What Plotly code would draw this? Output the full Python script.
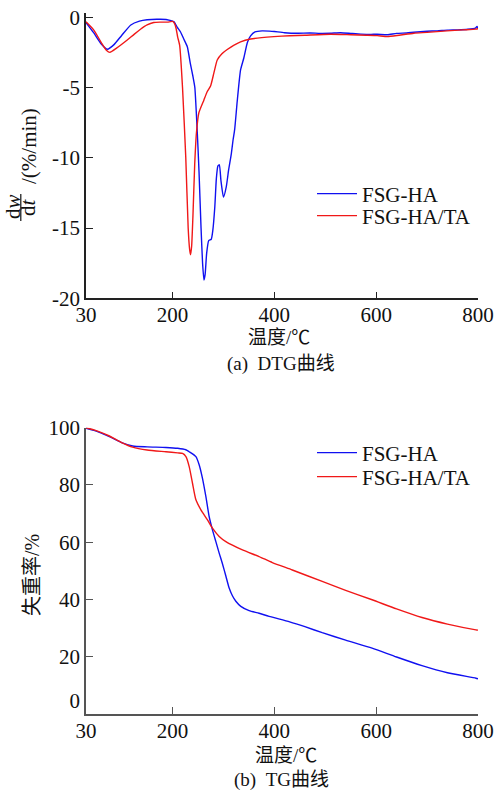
import plotly.graph_objects as go

# ---------------- data ----------------
dtg_x_ha = [30, 45, 60, 72, 85, 100, 118, 135, 150, 176, 195, 203, 209, 215.7, 222, 229, 235, 240, 243.8,
            247, 250, 252, 256, 259, 261.7, 264, 267, 271, 276, 279, 283, 286, 289, 292, 295, 300, 305.6,
            310, 315.5, 319, 322, 327, 333.6, 340, 347, 353.3, 362, 376, 390, 400, 420, 445, 470, 490,
            510, 530, 550, 570, 590, 602, 622, 640, 660, 674, 700, 720, 740, 760, 780, 795, 798, 800]
dtg_y_ha = [-0.38, -1.1, -1.9, -2.28, -1.95, -1.3, -0.55, -0.28, -0.18, -0.15, -0.22, -0.33, -0.7, -1.05,
            -1.55, -2.1, -3.3, -4.2, -5.0, -7.0, -9.3, -11.0, -15.0, -17.5, -18.7, -18.3, -16.8, -15.9,
            -15.8, -15.2, -13.5, -11.5, -10.6, -10.5, -11.6, -12.8, -12.05, -10.9, -9.7, -8.7, -8.0, -6.0,
            -3.75, -2.9, -1.8, -1.33, -1.05, -0.97, -0.99, -1.02, -1.1, -1.14, -1.12, -1.15, -1.14, -1.1,
            -1.15, -1.2, -1.22, -1.21, -1.25, -1.15, -1.12, -1.07, -1.0, -0.97, -0.92, -0.9, -0.86, -0.78,
            -0.65, -0.8]

dtg_x_ta = [30, 45, 60, 70, 77, 90, 111, 125, 137, 150, 163, 175, 190, 200, 204, 207, 210, 214, 219.6,
            226, 230.7, 233.5, 235.4, 237.5, 240, 243.5, 247, 251.7, 261.5, 268, 274.7, 281, 287.8, 297,
            307.4, 320, 333.6, 353.3, 375, 399, 430, 460, 510, 550, 580, 602, 622, 645, 674, 700, 739,
            770, 795.6, 800]
dtg_y_ta = [-0.33, -0.9, -1.8, -2.35, -2.5, -2.2, -1.62, -1.2, -0.86, -0.55, -0.38, -0.35, -0.35, -0.3,
            -0.45, -0.8, -1.4, -2.0, -5.0, -10.0, -15.0, -16.5, -16.9, -16.3, -14.2, -10.5, -8.2, -6.8,
            -5.9, -5.3, -4.9, -4.0, -3.04, -2.6, -2.3, -2.0, -1.75, -1.55, -1.45, -1.38, -1.32, -1.28,
            -1.21, -1.25, -1.28, -1.31, -1.38, -1.28, -1.14, -1.08, -0.97, -0.9, -0.85, -0.82]

tg_x_ha = [30, 50, 76, 100, 121.6, 150, 187, 210, 226, 232.7, 245.9, 252.4, 258.8, 265.5, 272, 278.4,
           285.1, 291.6, 298, 304.7, 311.2, 317.6, 324.3, 334.1, 350.4, 370, 389.6, 430, 460, 494, 540,
           592, 640, 690, 740, 796, 800]
tg_y_ha = [99.8, 98.8, 96.9, 94.8, 93.6, 93.3, 93.1, 92.8, 92.3, 91.6, 89.9, 87.0, 82.3, 75.9, 68.9, 64.3,
           60.2, 56.2, 52.5, 48.2, 44.0, 41.3, 39.4, 37.6, 36.1, 35.2, 34.1, 32.2, 30.5, 28.4, 25.8,
           23.0, 19.9, 16.9, 14.4, 12.5, 12.3]

tg_x_ta = [30, 50, 76, 100, 121.6, 150, 187, 210, 219.6, 226.3, 232.7, 239.2, 245.9, 255.7, 268.6, 278.4,
           291.6, 304.7, 337.3, 370, 396, 435.3, 494, 540, 592, 640, 690, 740, 796, 800]
tg_y_ta = [100.0, 99.0, 97.1, 94.8, 93.2, 92.2, 91.6, 91.2, 91.0, 89.9, 86.4, 80.6, 74.8, 71.3, 67.8, 64.9,
           62.0, 60.2, 57.3, 55.0, 52.9, 50.3, 46.3, 43.2, 39.9, 36.7, 33.7, 31.4, 29.4, 29.3]

x_ticks = [30, 200, 400, 600, 800]
dtg_ticks = [-20, -15, -10, -5, 0]
dtg_tick_text = ["-20", "-15", "-10", "-5", "0"]
tg_ticks = [0, 20, 40, 60, 80, 100]
tg_tick_text = ["0<br><span style='font-size:4px'>\u00a0</span>", "20", "40", "60", "80", "100"]
series_names = ["FSG-HA", "FSG-HA/TA"]

# ---------------- layout helpers ----------------
W_FIG, H_FIG = 497, 791
L, R, T, B = 86, 19, 13, 77
PW, PH = W_FIG - L - R, H_FIG - T - B


def pxx(x):
    return (x - L) / PW


def pxy(y):
    return (T + PH - y) / PH


FONT = "Liberation Serif, Times New Roman, Noto Sans CJK SC, serif"
BLUE = "#1010f0"
RED = "#f01818"
FS = 21

fig = go.Figure()
fig.add_trace(go.Scatter(x=dtg_x_ha, y=dtg_y_ha, mode="lines", name=series_names[0],
                         line=dict(color=BLUE, width=1.4, shape="spline", smoothing=0.5),
                         xaxis="x", yaxis="y", legend="legend"))
fig.add_trace(go.Scatter(x=dtg_x_ta, y=dtg_y_ta, mode="lines", name=series_names[1],
                         line=dict(color=RED, width=1.4, shape="spline", smoothing=0.5),
                         xaxis="x", yaxis="y", legend="legend2"))
fig.add_trace(go.Scatter(x=tg_x_ha, y=tg_y_ha, mode="lines", name=series_names[0],
                         line=dict(color=BLUE, width=1.4, shape="spline", smoothing=0.6),
                         xaxis="x2", yaxis="y2", legend="legend3"))
fig.add_trace(go.Scatter(x=tg_x_ta, y=tg_y_ta, mode="lines", name=series_names[1],
                         line=dict(color=RED, width=1.4, shape="spline", smoothing=0.6),
                         xaxis="x2", yaxis="y2", legend="legend4"))

top_dom = [pxy(298.3), 1.0]
bot_dom = [0.0, pxy(427.7)]


def axis_common(color):
    return dict(showline=True, linecolor=color, linewidth=1.5, ticks="inside", ticklen=7,
                tickcolor=color, tickwidth=1.3, showgrid=False, zeroline=False,
                tickfont=dict(family=FONT, size=FS, color="#111"), mirror=False)


def legend_at(y):
    return dict(x=pxx(312), y=pxy(y), xanchor="left", yanchor="middle",
                bgcolor="rgba(0,0,0,0)", font=dict(family=FONT, size=FS, color="#111"),
                itemwidth=40, tracegroupgap=0)


fig.update_layout(
    width=W_FIG, height=H_FIG,
    margin=dict(l=L, r=R, t=T, b=B, autoexpand=False),
    paper_bgcolor="white", plot_bgcolor="white",
    font=dict(family=FONT, size=FS, color="#111"),
    xaxis=dict(domain=[0, 1], anchor="y", range=[30, 800], tickvals=x_ticks,
               ticklabelstandoff=-3, **axis_common("#222")),
    yaxis=dict(domain=top_dom, anchor="x", range=[-20, 0.3], tickvals=dtg_ticks,
               ticktext=dtg_tick_text, ticklabelstandoff=0, **axis_common("#222")),
    xaxis2=dict(domain=[0, 1], anchor="y2", range=[30, 800], tickvals=x_ticks,
                ticklabelstandoff=-3, **axis_common("#555")),
    yaxis2=dict(domain=bot_dom, anchor="x2", range=[0, 100], tickvals=tg_ticks,
                ticktext=tg_tick_text, ticklabelstandoff=0, **axis_common("#555")),
    legend=legend_at(194),
    legend2=legend_at(216),
    legend3=legend_at(453),
    legend4=legend_at(477),
    showlegend=True,
)

ann = []


def add_text(text, x, y, size=20, angle=0):
    ann.append(dict(text=text, x=pxx(x), y=pxy(y), xref="paper", yref="paper",
                    xanchor="center", yanchor="middle", showarrow=False, textangle=angle,
                    font=dict(family=FONT, size=size, color="#111")))


add_text("温度/℃", 279, 337, 19)
add_text("(a)\u00a0\u00a0DTG曲线", 281, 364, 19)
add_text("温度/℃", 286, 755, 19)
add_text("(b)\u00a0\u00a0TG曲线", 281, 780, 19)
# y titles
add_text("d<i>w</i>", 13, 207, 21, -90)
add_text("d<i>t</i>", 28, 207, 21, -90)
add_text("/(%/min)", 29, 146, 21, -90)
add_text("失重率/%", 32, 575, 20, -90)
fig.update_layout(annotations=ann)

fig.add_shape(type="line", xref="paper", yref="paper",
              x0=pxx(20.8), x1=pxx(20.8), y0=pxy(194), y1=pxy(221),
              line=dict(color="#111", width=1.2))

fig.write_html("out.html", config={"displayModeBar": False},
               post_script="document.body.style.margin='0';document.body.style.overflow='hidden';")
